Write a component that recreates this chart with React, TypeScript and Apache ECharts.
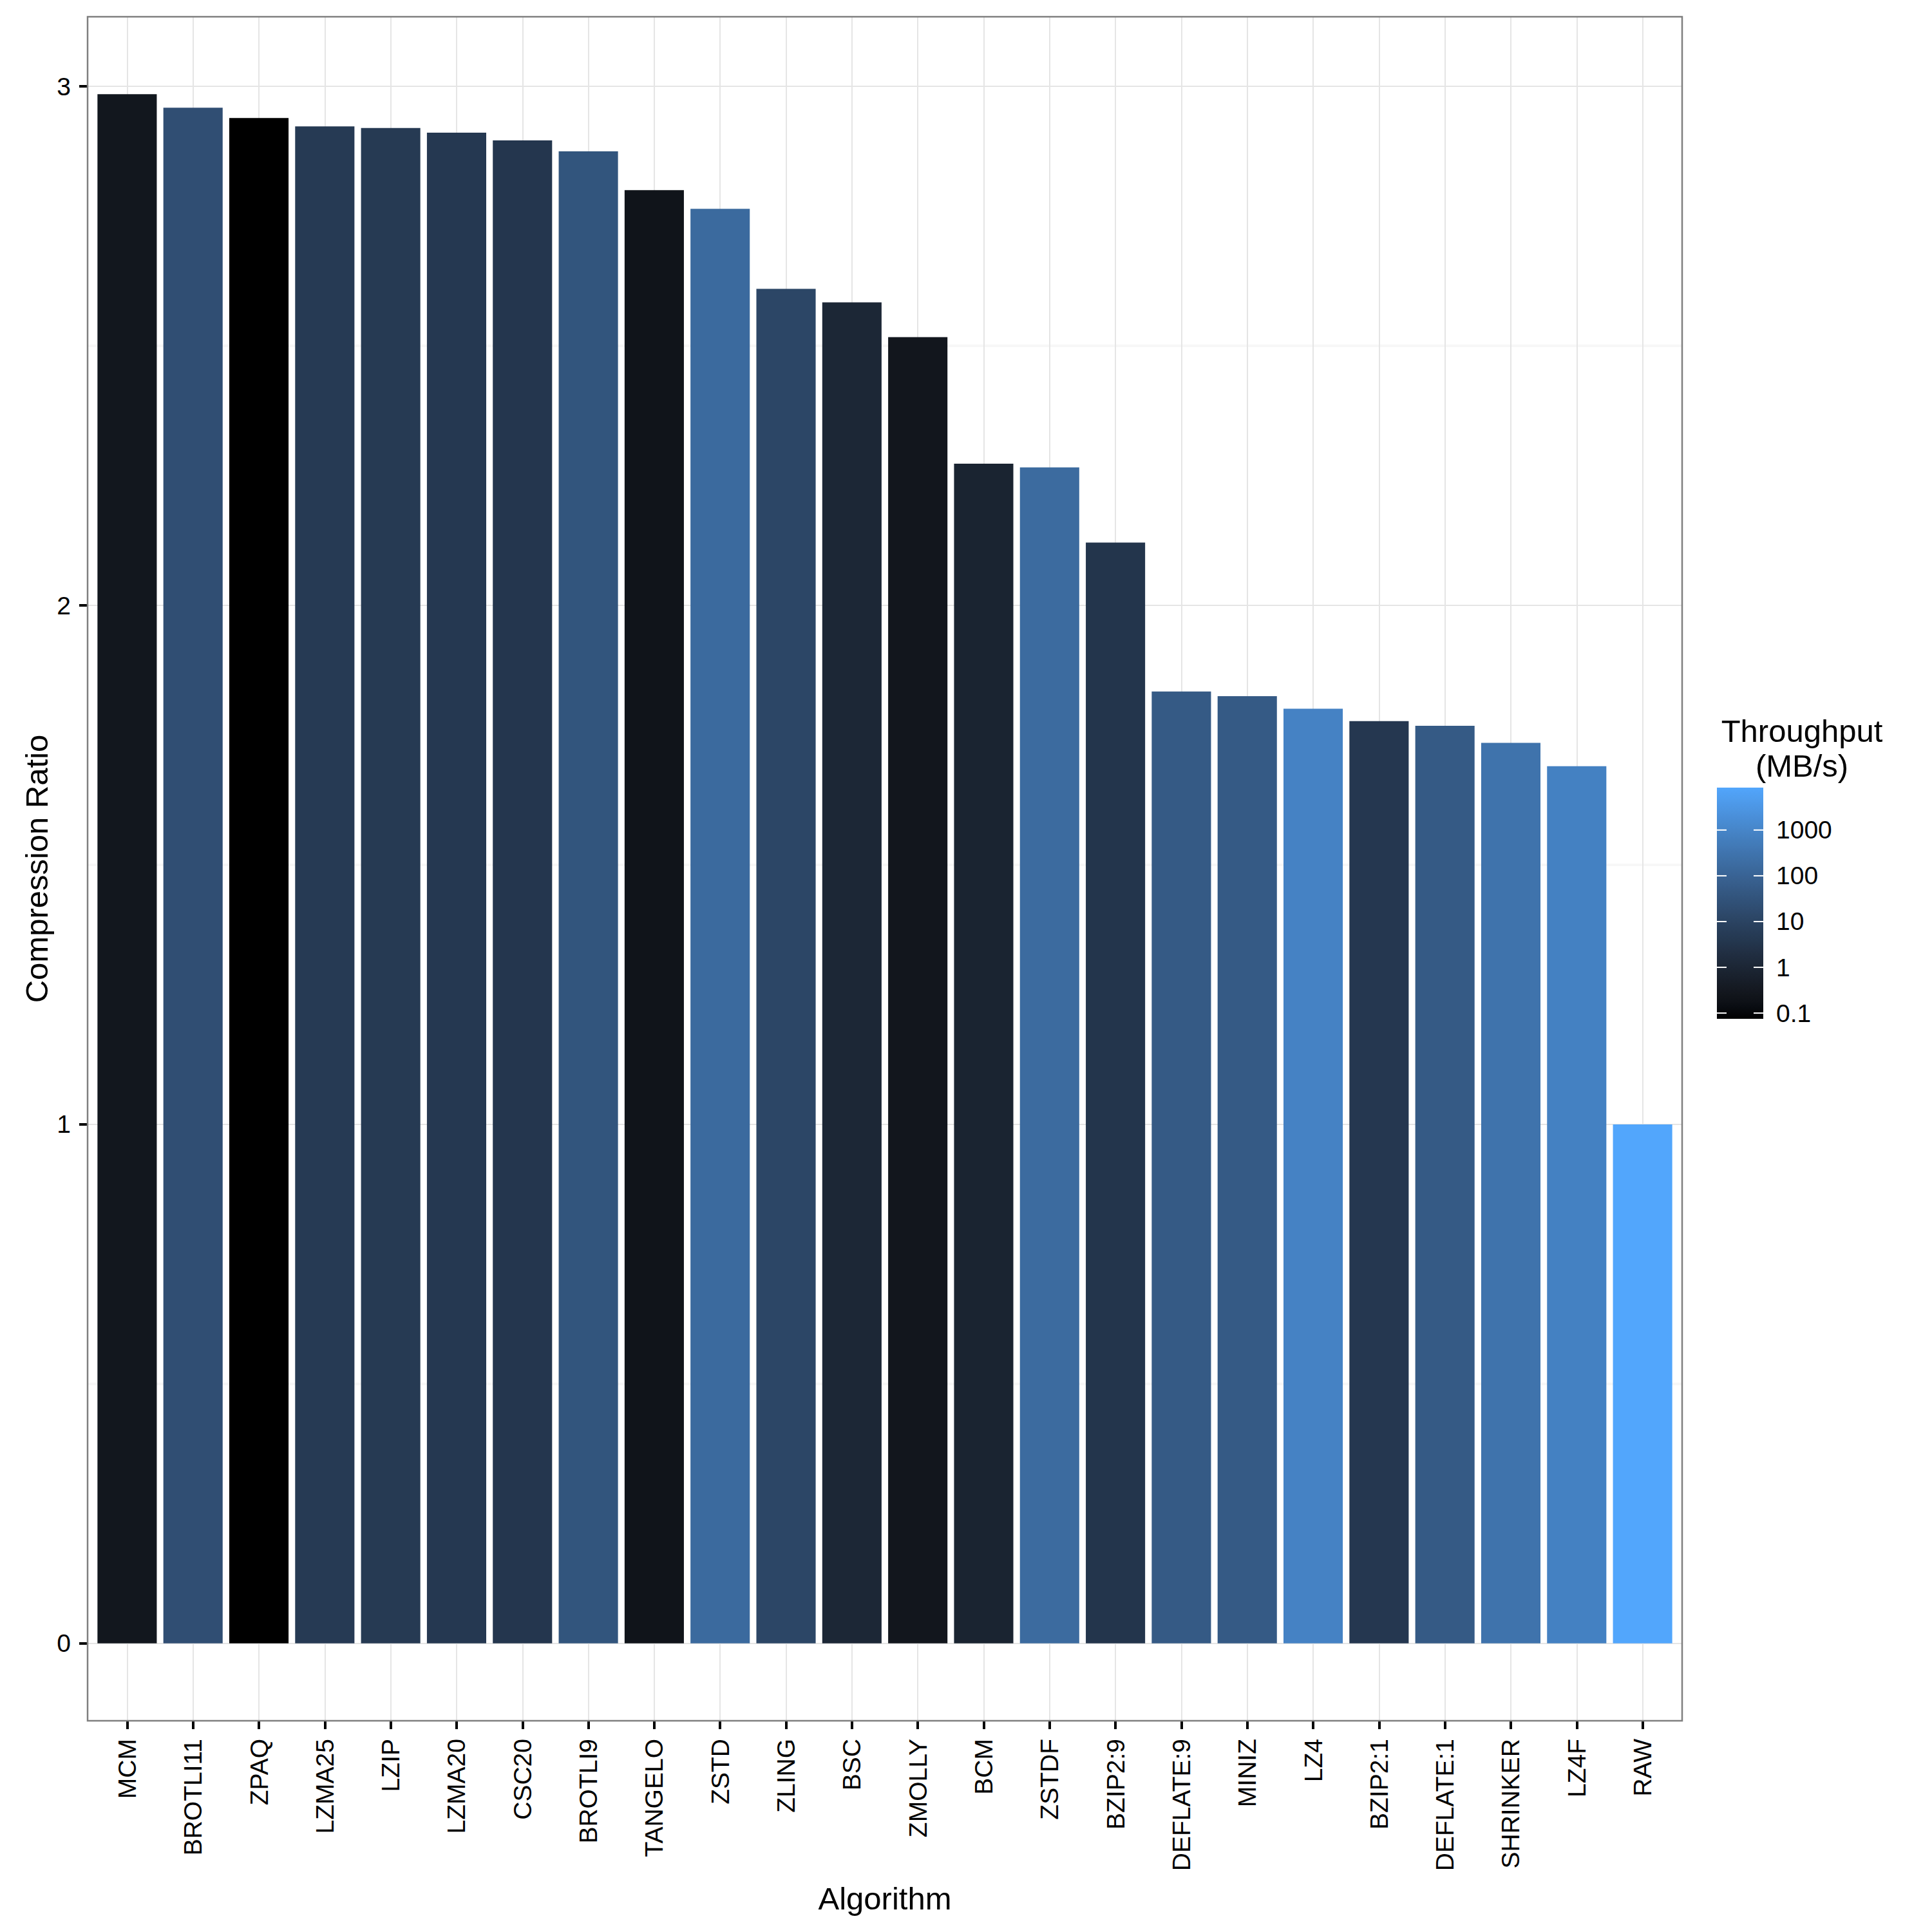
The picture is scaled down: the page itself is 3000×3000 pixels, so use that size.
import React, { useEffect, useRef } from 'react';
import * as echarts from 'echarts';

// ---------------- data ----------------
const algorithms = ['MCM', 'BROTLI11', 'ZPAQ', 'LZMA25', 'LZIP', 'LZMA20', 'CSC20', 'BROTLI9', 'TANGELO', 'ZSTD', 'ZLING', 'BSC', 'ZMOLLY', 'BCM', 'ZSTDF', 'BZIP2:9', 'DEFLATE:9', 'MINIZ', 'LZ4', 'BZIP2:1', 'DEFLATE:1', 'SHRINKER', 'LZ4F', 'RAW'];
const compressionRatio = [2.985, 2.959, 2.939, 2.923, 2.920, 2.911, 2.896, 2.875, 2.800, 2.764, 2.610, 2.584, 2.517, 2.273, 2.266, 2.121, 1.834, 1.825, 1.801, 1.777, 1.768, 1.735, 1.690, 1.0];
const throughputMBs = [0.28, 22.6, 0.075, 4.9, 4.8, 4.2, 3.7, 35, 0.22, 155, 11.8, 1.08, 0.27, 0.83, 166, 3.3, 51, 52, 815, 4.0, 52, 286, 743, 8450];
const yTicks = [0, 1, 2, 3];
const legendTicks = [0.1, 1, 10, 100, 1000];
const legendTickLabels = ['0.1', '1', '10', '100', '1000'];
const xTitle = 'Algorithm';
const yTitle = 'Compression Ratio';
const legendTitle = ['Throughput', '(MB/s)'];

// ---------------- styles / layout ----------------
const FONT = '"Liberation Sans", Arial, Helvetica, sans-serif';
const LOW = '#000000';
const HIGH = '#52A6FC';
const PANEL = { left: 136, top: 26, width: 2476, height: 2646 };
const LEG = { x: 2666, y: 1223, w: 72, h: 359, labelX: 2758, titleX: 2798, title1Y: 1135, title2Y: 1189 };
const TITLE_SIZE = 49;
const TEXT_SIZE = 39;

// ---------------- colour (CIELAB interpolation like ggplot) ----------------
const Xn = 0.95047, Yn = 1.0, Zn = 1.08883;
function toLin(c: number) { c /= 255; return c <= 0.04045 ? c / 12.92 : Math.pow((c + 0.055) / 1.055, 2.4); }
function fromLin(c: number) {
  c = Math.max(0, Math.min(1, c));
  const v = c <= 0.0031308 ? 12.92 * c : 1.055 * Math.pow(c, 1 / 2.4) - 0.055;
  return Math.max(0, Math.min(255, Math.round(v * 255)));
}
function fLab(t: number) { return t > 0.008856 ? Math.cbrt(t) : 7.787 * t + 16 / 116; }
function fInv(t: number) { return t > 0.206893 ? t * t * t : (t - 16 / 116) / 7.787; }
function hexToLab(hex: string) {
  const r = toLin(parseInt(hex.slice(1, 3), 16));
  const g = toLin(parseInt(hex.slice(3, 5), 16));
  const b = toLin(parseInt(hex.slice(5, 7), 16));
  const X = (0.4124 * r + 0.3576 * g + 0.1805 * b) / Xn;
  const Y = (0.2126 * r + 0.7152 * g + 0.0722 * b) / Yn;
  const Z = (0.0193 * r + 0.1192 * g + 0.9505 * b) / Zn;
  const fx = fLab(X), fy = fLab(Y), fz = fLab(Z);
  return [116 * fy - 16, 500 * (fx - fy), 200 * (fy - fz)];
}
function labToHex(lab: number[]) {
  const fy = (lab[0] + 16) / 116;
  const fx = fy + lab[1] / 500;
  const fz = fy - lab[2] / 200;
  const X = fInv(fx) * Xn, Y = fInv(fy) * Yn, Z = fInv(fz) * Zn;
  const r = 3.2406 * X - 1.5372 * Y - 0.4986 * Z;
  const g = -0.9689 * X + 1.8758 * Y + 0.0415 * Z;
  const b = 0.0557 * X - 0.2040 * Y + 1.0570 * Z;
  const h = (n: number) => n.toString(16).padStart(2, '0');
  return '#' + h(fromLin(r)) + h(fromLin(g)) + h(fromLin(b));
}
const labLow = hexToLab(LOW);
const labHigh = hexToLab(HIGH);
function rampColor(t: number) {
  const c = Math.max(0, Math.min(1, t));
  return labToHex([0, 1, 2].map((k) => labLow[k] + (labHigh[k] - labLow[k]) * c));
}
const logMin = Math.log10(Math.min(...throughputMBs));
const logMax = Math.log10(Math.max(...throughputMBs));
const tOf = (v: number) => (Math.log10(v) - logMin) / (logMax - logMin);

function txt(text: string, size: number, align: string) {
  return { text, fontSize: size, fontFamily: FONT, fill: '#000', align, verticalAlign: 'middle', textAlign: align, textVerticalAlign: 'middle' };
}

export default function App() {
  const ref = useRef<HTMLDivElement>(null);
  useEffect(() => {
    if (!ref.current) return;
    const chart = echarts.init(ref.current, undefined, { renderer: 'svg' });
    const maxVal = Math.max(...compressionRatio);
    const yMin = -0.05 * maxVal;
    const yMax = maxVal * 1.05;
    const u = PANEL.width / (algorithms.length + 0.2);

    const legendY = (v: number) => LEG.y + LEG.h * (1 - tOf(v));
    const stops = [] as any[];
    for (let i = 0; i <= 40; i++) stops.push({ offset: i / 40, color: rampColor(i / 40) });

    const graphic: any[] = [
      {
        type: 'rect', z: 100, silent: true,
        shape: { x: PANEL.left, y: PANEL.top, width: PANEL.width, height: PANEL.height },
        style: { fill: 'none', stroke: '#7F7F7F', lineWidth: 2.5 },
      },
      { type: 'text', z: 100, x: PANEL.left + PANEL.width / 2, y: 2948, style: txt(xTitle, TITLE_SIZE, 'center') },
      { type: 'text', z: 100, x: 57, y: PANEL.top + PANEL.height / 2, rotation: Math.PI / 2, style: txt(yTitle, TITLE_SIZE, 'center') },
      { type: 'text', z: 100, x: LEG.titleX, y: LEG.title1Y, style: txt(legendTitle[0], TITLE_SIZE, 'center') },
      { type: 'text', z: 100, x: LEG.titleX, y: LEG.title2Y, style: txt(legendTitle[1], TITLE_SIZE, 'center') },
      {
        type: 'rect', z: 100, silent: true,
        shape: { x: LEG.x, y: LEG.y, width: LEG.w, height: LEG.h },
        style: { fill: { type: 'linear', x: 0, y: 1, x2: 0, y2: 0, colorStops: stops } },
      },
    ];
    legendTicks.forEach((v, i) => {
      const y = legendY(v);
      graphic.push({ type: 'line', z: 101, shape: { x1: LEG.x, y1: y, x2: LEG.x + 15, y2: y }, style: { stroke: '#FFFFFF', lineWidth: 2 } });
      graphic.push({ type: 'line', z: 101, shape: { x1: LEG.x + LEG.w - 15, y1: y, x2: LEG.x + LEG.w, y2: y }, style: { stroke: '#FFFFFF', lineWidth: 2 } });
      graphic.push({ type: 'text', z: 101, x: LEG.labelX, y, style: txt(legendTickLabels[i], TEXT_SIZE, 'left') });
    });

    const option: any = {
      animation: false,
      backgroundColor: '#FFFFFF',
      textStyle: { fontFamily: FONT },
      grid: [
        { left: PANEL.left, top: PANEL.top, width: PANEL.width, height: PANEL.height },
        { left: PANEL.left + 0.6 * u, top: PANEL.top, width: (algorithms.length - 1) * u, height: PANEL.height },
      ],
      xAxis: [
        { gridIndex: 0, type: 'value', min: 0, max: 1, show: false },
        {
          gridIndex: 1, type: 'category', data: algorithms, boundaryGap: false,
          axisLine: { show: false, onZero: false },
          axisTick: { show: true, length: 13, interval: 0, lineStyle: { color: '#000', width: 4 } },
          axisLabel: { show: true, interval: 0, rotate: 90, margin: 28, fontSize: TEXT_SIZE, color: '#000', fontFamily: FONT },
          splitLine: { show: true, interval: 0, lineStyle: { color: '#E5E5E5', width: 2 } },
        },
      ],
      yAxis: [
        {
          gridIndex: 0, type: 'value', min: yMin, max: yMax, splitNumber: 3,
          axisLine: { show: false, onZero: false },
          axisTick: { show: true, length: 13, customValues: yTicks, lineStyle: { color: '#000', width: 4 } },
          axisLabel: { show: true, customValues: yTicks, margin: 26, fontSize: TEXT_SIZE, color: '#000', fontFamily: FONT, formatter: (v: number) => String(Math.round(v)) },
          splitLine: { show: true, lineStyle: { color: '#E5E5E5', width: 2 } },
          minorTick: { show: false, splitNumber: 2 },
          minorSplitLine: { show: true, lineStyle: { color: '#F7F7F7', width: 4 } },
        },
        { gridIndex: 1, type: 'value', min: yMin, max: yMax, show: false, splitLine: { show: false } },
      ],
      series: [
        {
          type: 'bar', xAxisIndex: 1, yAxisIndex: 1, barWidth: '90%', clip: false, z: 2,
          data: compressionRatio.map((v, i) => ({ value: v, itemStyle: { color: rampColor(tOf(throughputMBs[i])) } })),
        },
      ],
      graphic,
    };
    chart.setOption(option);
    return () => chart.dispose();
  }, []);
  return <div ref={ref} style={{ position: 'absolute', left: 0, top: 0, width: 3000, height: 3000, background: '#fff' }} />;
}
